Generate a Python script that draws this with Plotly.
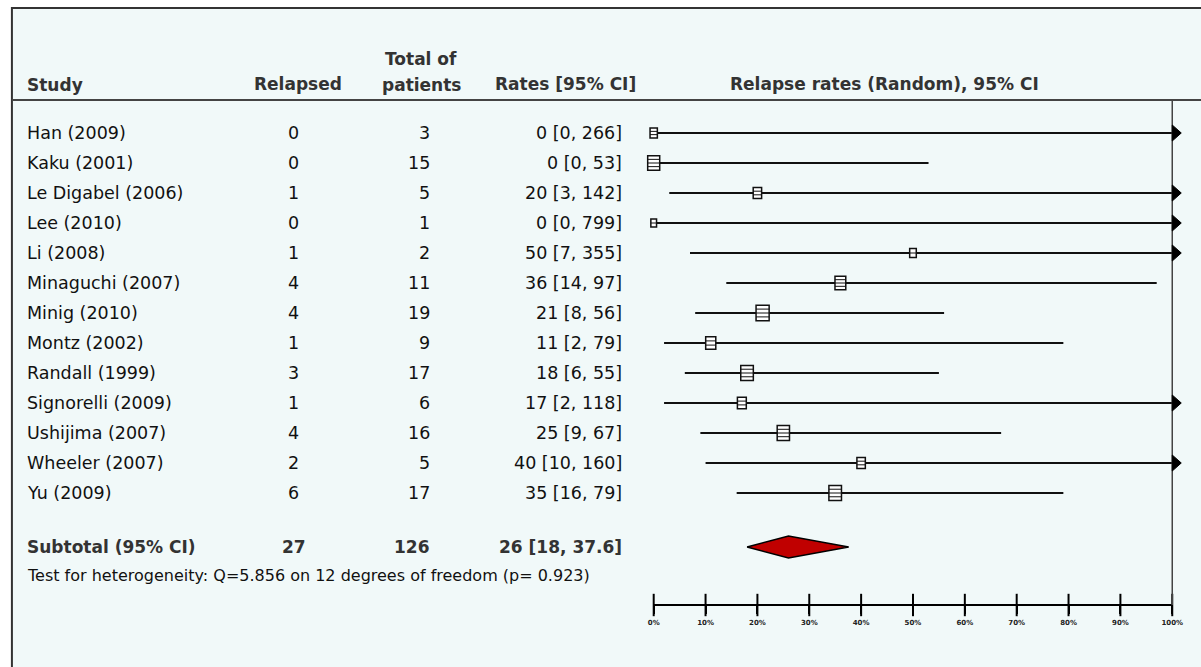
import math
import plotly.graph_objects as go

# ---- data -------------------------------------------------------------
studies = ["Han (2009)", "Kaku (2001)", "Le Digabel (2006)", "Lee (2010)", "Li (2008)",
           "Minaguchi (2007)", "Minig (2010)", "Montz (2002)", "Randall (1999)",
           "Signorelli (2009)", "Ushijima (2007)", "Wheeler (2007)", "Yu (2009)"]
relapsed = [0, 0, 1, 0, 1, 4, 4, 1, 3, 1, 4, 2, 6]
patients = [3, 15, 5, 1, 2, 11, 19, 9, 17, 6, 16, 5, 17]
rate = [0, 0, 20, 0, 50, 36, 21, 11, 18, 17, 25, 40, 35]
ci_low = [0, 0, 3, 0, 7, 14, 8, 2, 6, 2, 9, 10, 16]
ci_high = [266, 53, 142, 799, 355, 97, 56, 79, 55, 118, 67, 160, 79]

subtotal_label = "Subtotal (95% CI)"
subtotal_relapsed = 27
subtotal_patients = 126
subtotal_rate = 26
subtotal_low = 18
subtotal_high = "37.6"

heterogeneity = "Test for heterogeneity: Q=5.856 on 12 degrees of freedom (p= 0.923)"

tick_vals = [0, 10, 20, 30, 40, 50, 60, 70, 80, 90, 100]
tick_text = ["0%", "10%", "20%", "30%", "40%", "50%", "60%", "70%", "80%", "90%", "100%"]

# ---- layout constants (pixels) ---------------------------------------
W, H = 1201, 667
AX_PX0, AX_PX1 = 657, 1183        # where 0% and 100% sit
AX_MAX = 100
ROW_Y0, ROW_DY = 133, 30
SUB_Y, TEST_Y, AXIS_Y = 547, 575, 605
HEAD_LINE_Y = 100
FRAME_X, FRAME_Y = 6, 8
PAD = 4                            # annotation inner padding

FONT = "DejaVu Sans"
TXT = "#111111"
HEAD = "#333333"
BG = "#F1F9F9"

k = (AX_PX1 - AX_PX0) / AX_MAX
x_range = [-AX_PX0 / k, (W - AX_PX0) / k]


def px(xp):
    return xp / W


row_y = [ROW_Y0 + i * ROW_DY for i in range(len(studies))]

fig = go.Figure()

# confidence interval whiskers
xs, ys = [], []
for lo, hi, yy in zip(ci_low, ci_high, row_y):
    xs += [lo, min(hi, AX_MAX), None]
    ys += [yy, yy, None]
fig.add_trace(go.Scatter(x=xs, y=ys, mode="lines",
                         line=dict(color="#111111", width=1.8),
                         hoverinfo="skip", showlegend=False))

# pooled estimate diamond
sub_hi = float(subtotal_high)
fig.add_trace(go.Scatter(
    x=[subtotal_low, subtotal_rate, sub_hi, subtotal_rate, subtotal_low],
    y=[SUB_Y, SUB_Y - 11, SUB_Y, SUB_Y + 11, SUB_Y],
    mode="lines", fill="toself", fillcolor="#C00000",
    line=dict(color="#000000", width=1.5),
    hoverinfo="skip", showlegend=False))

# tick marks crossing the scale line
fig.add_trace(go.Scatter(
    x=tick_vals, y=[AXIS_Y] * len(tick_vals), xaxis="x2", yaxis="y",
    mode="markers", cliponaxis=False,
    marker=dict(symbol="line-ns", size=16, line=dict(color="#000000", width=2)),
    hoverinfo="skip", showlegend=False))

shapes = []
# outer frame and background panel
shapes.append(dict(type="rect", xref="paper", yref="paper",
                   x0=px(FRAME_X), x1=1.05, y0=-0.05, y1=1 - FRAME_Y / H,
                   line=dict(color="#333333", width=2), fillcolor=BG, layer="below"))
# header rule
shapes.append(dict(type="line", xref="paper", yref="y",
                   x0=px(FRAME_X), x1=1.05, y0=HEAD_LINE_Y, y1=HEAD_LINE_Y,
                   line=dict(color="#444444", width=2)))
# 100% boundary line
shapes.append(dict(type="line", xref="x", yref="y",
                   x0=AX_MAX, x1=AX_MAX, y0=HEAD_LINE_Y, y1=AXIS_Y,
                   line=dict(color="#444444", width=1.5)))

# study boxes (size grows with sample size) with horizontal hatching
for r, n, yy in zip(rate, patients, row_y):
    w = 3.5 + 2.2 * math.sqrt(n)
    h = w + 2.5
    shapes.append(dict(type="rect", xref="x", yref="y",
                       xsizemode="pixel", ysizemode="pixel",
                       xanchor=r, yanchor=yy,
                       x0=-w / 2, x1=w / 2, y0=-h / 2, y1=h / 2,
                       line=dict(color="#111111", width=1.5), fillcolor="#FFFFFF"))
    n_str = max(1, int(h // 3.2) - 1)
    step = h / (n_str + 1)
    for s in range(1, n_str + 1):
        off = -h / 2 + s * step
        shapes.append(dict(type="line", xref="x", yref="y",
                           xsizemode="pixel", ysizemode="pixel",
                           xanchor=r, yanchor=yy,
                           x0=-w / 2, x1=w / 2, y0=off, y1=off,
                           line=dict(color="#111111", width=1)))

# arrows for intervals running past 100%
for hi, yy in zip(ci_high, row_y):
    if hi > AX_MAX:
        shapes.append(dict(type="path", xref="x", yref="y",
                           xsizemode="pixel", ysizemode="pixel",
                           xanchor=AX_MAX, yanchor=yy,
                           path="M 0,-8 L 9,0 L 0,8 Z",
                           fillcolor="#000000", line=dict(color="#000000", width=1)))

ann = []


def text(x, y, s, anchor="left", size=17.5, color=TXT, bold=False):
    shift = {"left": -PAD, "right": PAD, "center": 0}[anchor]
    ann.append(dict(xref="paper", yref="y", x=px(x + shift), y=y,
                    text=f"<b>{s}</b>" if bold else s,
                    xanchor=anchor, yanchor="middle", showarrow=False,
                    font=dict(family=FONT, size=size, color=color)))


# column headers
text(23, 85, "Study", size=17, bold=True, color=HEAD)
text(296, 84, "Relapsed", "center", size=17, bold=True, color=HEAD)
text(421, 59, "Total of", "center", size=17, bold=True, color=HEAD)
text(421, 85, "patients", "center", size=17, bold=True, color=HEAD)
text(568, 84, "Rates [95% CI]", "center", size=17, bold=True, color=HEAD)
text(891, 84, "Relapse rates (Random), 95% CI", "center", size=17, bold=True, color=HEAD)

# study rows
for s, e, n, r, lo, hi, yy in zip(studies, relapsed, patients, rate, ci_low, ci_high, row_y):
    text(23, yy, s)
    text(292, yy, str(e), "center")
    text(428, yy, str(n), "right")
    text(623, yy, f"{r} [{lo}, {hi}]", "right")

# pooled row
text(23, SUB_Y, subtotal_label, size=17, bold=True, color=HEAD)
text(292, SUB_Y, str(subtotal_relapsed), "center", size=17, bold=True, color=HEAD)
text(428, SUB_Y, str(subtotal_patients), "right", size=17, bold=True, color=HEAD)
text(623, SUB_Y, f"{subtotal_rate} [{subtotal_low}, {subtotal_high}]", "right",
     size=17, bold=True, color=HEAD)
text(23, TEST_Y, heterogeneity, size=16)

fig.update_layout(
    width=W, height=H, autosize=False,
    margin=dict(l=0, r=0, t=0, b=0, pad=0),
    paper_bgcolor="#FFFFFF", plot_bgcolor="rgba(0,0,0,0)",
    showlegend=False,
    xaxis=dict(domain=[0, 1], range=x_range, visible=False, fixedrange=True),
    yaxis=dict(domain=[0, 1], range=[H, 0], visible=False, fixedrange=True),
    xaxis2=dict(domain=[px(AX_PX0), px(AX_PX1)], range=[0, AX_MAX],
                anchor="free", position=1 - AXIS_Y / H,
                showline=True, linecolor="#000000", linewidth=2,
                ticks="outside", ticklen=8, tickwidth=2, tickcolor="#000000",
                ticklabelstandoff=3,
                tickvals=tick_vals, ticktext=tick_text,
                tickfont=dict(family=FONT, size=7, color="#222222", weight="bold"),
                showgrid=False, zeroline=False, fixedrange=True),
    shapes=shapes, annotations=ann,
)

fig.write_html("out.html")
